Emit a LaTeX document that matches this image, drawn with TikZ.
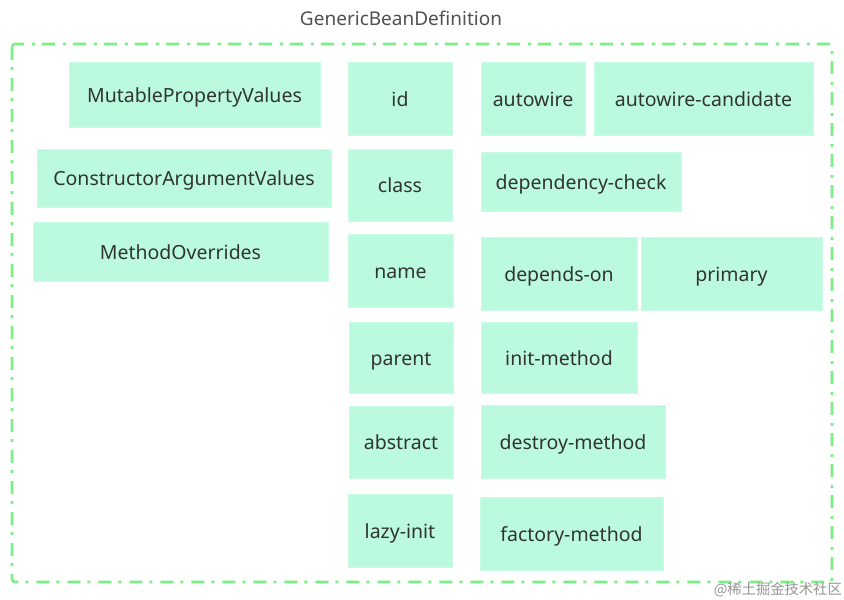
\documentclass[tikz,border=0pt]{standalone}
\usepackage{fontspec}
\setmainfont{Noto Sans}
\newfontfamily\cjkfont{Noto Sans CJK SC}
\definecolor{boxfill}{RGB}{187,250,222}
\definecolor{boxedge}{RGB}{200,252,228}
\definecolor{framegreen}{RGB}{122,240,132}
\definecolor{labelgray}{RGB}{48,52,50}
\definecolor{marktext}{RGB}{150,150,150}
\tikzset{
  field/.style={draw=boxedge, line width=1pt, fill=boxfill, inner sep=0pt, outer sep=0pt,
    anchor=north west, text=labelgray, font=\fontsize{19.5}{22}\selectfont,
    text height=17pt, text depth=2pt},
  groupframe/.style={draw=framegreen, line width=2.6pt, rounded corners=3pt,
    dash pattern=on 13pt off 7pt on 3pt off 8pt},
}
% field at top-left corner (x,y), width w, height h
\newcommand{\fieldbox}[6]{\node[field, minimum width=#4pt, minimum height=#5pt] (#1) at (#2,#3) {#6};}
\begin{document}
\begin{tikzpicture}[x=1pt, y=-1pt]
\useasboundingbox (0,0) rectangle (844,600);
\fill[white] (0,0) rectangle (844,600);

% outer group
\draw[groupframe] (12,44) rectangle (832,582);
\node[anchor=base, text=labelgray!85, font=\fontsize{19}{22}\selectfont, inner sep=0pt] (title) at (401,25.5) {GenericBeanDefinition};

% collections
\fieldbox{mpv}{69}{62}{251}{65}{MutablePropertyValues}
\fieldbox{cav}{37}{149}{294}{58}{ConstructorArgumentValues}
\fieldbox{mo}{33}{222}{295}{59}{MethodOverrides}

% basic attributes
\fieldbox{id}{348}{62}{104}{73}{id}
\fieldbox{class}{348}{149}{104}{72}{class}
\fieldbox{name}{348}{234}{105}{73}{name}
\fieldbox{parent}{349}{322}{104}{71}{parent}
\fieldbox{abstract}{349}{406}{104}{72}{abstract}
\fieldbox{lazy}{348}{494}{104}{73}{lazy-init}

% wiring and lifecycle attributes
\fieldbox{autowire}{481}{62}{104}{73}{autowire}
\fieldbox{autocand}{594}{62}{219}{73}{autowire-candidate}
\fieldbox{depcheck}{481}{152}{200}{59}{dependency-check}
\fieldbox{dependson}{481}{237}{156}{73}{depends-on}
\fieldbox{primary}{641}{237}{181}{73}{primary}
\fieldbox{initm}{481}{322}{156}{71}{init-method}
\fieldbox{destroym}{481}{405}{184}{73}{destroy-method}
\fieldbox{factorym}{480}{497}{183}{73}{factory-method}

% site mark
\node[anchor=east, text=marktext, font=\cjkfont\fontsize{14.3}{16}\selectfont, inner sep=0pt] (mark) at (842,590) {@稀土掘金技术社区};
\end{tikzpicture}
\end{document}
